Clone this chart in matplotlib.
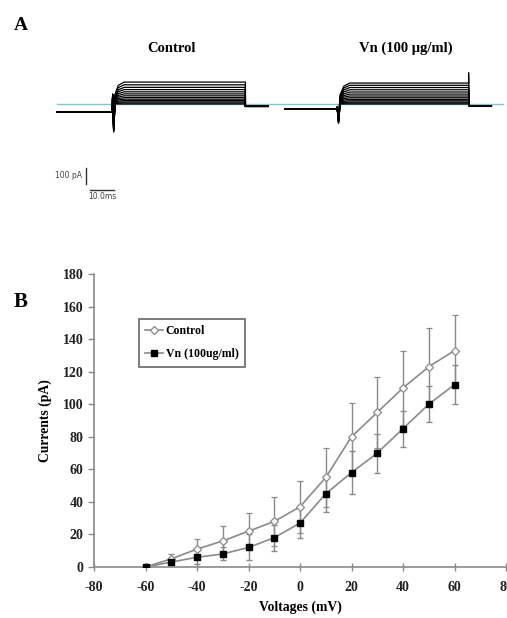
import matplotlib
matplotlib.use('Agg')
import matplotlib.pyplot as plt
from matplotlib.lines import Line2D

# ---- panel B data (I-V curve) ----
voltages = [-60, -50, -40, -30, -20, -10, 0, 10, 20, 30, 40, 50, 60]
control_mean = [0, 5, 11, 16, 22, 28, 37, 55, 80, 95, 110, 123, 133]
control_err = [0, 3, 6, 9, 11, 15, 16, 18, 21, 22, 23, 24, 22]
vn_mean = [0, 3, 6, 8, 12, 18, 27, 45, 58, 70, 85, 100, 112]
vn_err = [0, 1, 4, 4, 8, 8, 9, 11, 13, 12, 11, 11, 12]

# ---- panel A data (current traces, pA vs ms) ----
# steady-state level of each sweep
control_levels = [0, 6, 13, 21, 30, 40, 51, 63, 76, 90, 104, 120, 137]
vn_levels = [0, 6, 12, 20, 29, 39, 50, 62, 75, 89, 103, 117, 131]
# knots of one sweep (ms, relative to trace start)
control_t = [0, 23, 23.2, 23.6, 24.2, 25.5, 28, 78.5, 78.5, 78.8, 88]
vn_t = [0, 21.5, 21.7, 22.3, 23.0, 24.5, 27, 76.5, 76.5, 76.8, 86]
control_hold = -50      # pre-pulse holding current
control_tail = -15      # post-pulse
control_spike = [60, -175]  # onset up-spike, onset dip
control_end_spike = -15
vn_hold = -31
vn_tail = -12
vn_spike = [-20, -120]
vn_end_spike = 195
control_start = 23.75   # ms, trace offset on the page
vn_start = 118.75

plt.rcParams['axes.unicode_minus'] = False

W, H = 507, 618
fig = plt.figure(figsize=(W / 100, H / 100), dpi=100)
serif = ['Liberation Serif', 'DejaVu Serif']

# ---------------- panel A ----------------
px_ms = 2.4      # pixels per ms
px_pa = 1 / 6.25  # pixels per pA
axA = fig.add_axes([0, 1 - 210 / H, 1, 150 / H])
axA.set_xlim(0, W / px_ms)
axA.set_ylim(-(210 - 104) / px_pa, (104 - 60) / px_pa)
axA.axis('off')

axA.axhline(0, xmin=57 / W, xmax=503 / W, color='#7cc6cc', lw=1.0, zorder=1)


def sweep(t, start, hold, spikes, lvl, tail, end_spike):
    tt = [start + v for v in t]
    yy = [hold, hold, spikes[0], spikes[1] + 0.3 * lvl, 0.45 * lvl,
          0.85 * lvl, lvl, lvl, end_spike, tail, tail]
    return tt, yy


for lvl in control_levels:
    tt, yy = sweep(control_t, control_start, control_hold, control_spike,
                   lvl, control_tail, control_end_spike)
    axA.plot(tt, yy, color='black', lw=0.9, zorder=2)
for lvl in vn_levels:
    end = vn_end_spike if lvl == vn_levels[-1] else lvl
    tt, yy = sweep(vn_t, vn_start, vn_hold, vn_spike, lvl, vn_tail, end)
    axA.plot(tt, yy, color='black', lw=0.9, zorder=2)

# scale bars
axA.plot([86 / px_ms] * 2, [-400, -500], color='#333333', lw=1.0)
axA.plot([90 / px_ms, 90 / px_ms + 10], [-537.5, -537.5], color='#333333', lw=1.0)
axA.text(82 / px_ms, -450, '100 pA', ha='right', va='center', fontsize=5.5,
         color='#444444', family='DejaVu Sans')
axA.text(102 / px_ms, -580, '10.0ms', ha='center', va='center', fontsize=5.5,
         color='#444444', family='DejaVu Sans')

fig.text(14 / W, 1 - 25 / H, 'A', fontsize=14, fontweight='bold', family=serif,
         va='center')
fig.text(171 / W, 1 - 48 / H, 'Control', fontsize=10.5, fontweight='bold',
         family=serif, ha='center', va='center')
fig.text(406 / W, 1 - 48 / H, 'Vn (100 \u03bcg/ml)', fontsize=10.5,
         fontweight='bold', family=serif, ha='center', va='center')

# ---------------- panel B ----------------
axB = fig.add_axes([94 / W, 1 - 567 / H, 412 / W, 293 / H])
gray = '#8a8a8a'
axB.errorbar(voltages, control_mean, yerr=control_err, color=gray, lw=1.2,
             marker='D', ms=4.5, mfc='white', mec=gray, mew=0.9,
             ecolor=gray, elinewidth=1.0, capsize=2.5, capthick=1.0, zorder=3)
axB.errorbar(voltages, vn_mean, yerr=vn_err, color=gray, lw=1.2,
             marker='s', ms=4.5, mfc='black', mec='black',
             ecolor=gray, elinewidth=1.0, capsize=2.5, capthick=1.0, zorder=3)

axB.set_xlim(-80, 80)
axB.set_ylim(0, 180)
axB.set_xticks(range(-80, 81, 20))
axB.set_yticks(range(0, 181, 20))
for s in ['top', 'right']:
    axB.spines[s].set_visible(False)
for s in ['left', 'bottom']:
    axB.spines[s].set_color(gray)
    axB.spines[s].set_linewidth(1.2)
axB.tick_params(axis='both', colors=gray, labelcolor='#222222', width=1.0,
                length=4, labelsize=10)
axB.tick_params(axis='x', direction='inout', length=6, pad=7)
for lab in axB.get_xticklabels() + axB.get_yticklabels():
    lab.set_family(serif)
    lab.set_fontweight('bold')

axB.set_xlabel('Voltages (mV)', fontsize=9.8, fontweight='bold', family=serif,
               labelpad=5)
axB.set_ylabel('Currents (pA)', fontsize=9.8, fontweight='bold', family=serif,
               labelpad=8)

handles = [Line2D([], [], color=gray, lw=1.2, marker='D', ms=4, mfc='white',
                  mec=gray, mew=0.9),
           Line2D([], [], color=gray, lw=1.2, marker='s', ms=4, mfc='black',
                  mec='black')]
leg = axB.legend(handles, ['Control', 'Vn (100ug/ml)'], loc='upper left',
                 bbox_to_anchor=(45 / 412, 1 - (319 - 274) / 293),
                 prop={'family': serif, 'weight': 'bold', 'size': 8.5},
                 handlelength=1.5, handletextpad=0.2, borderpad=0.55,
                 borderaxespad=0, labelspacing=0.9, fancybox=False,
                 framealpha=1)
leg.get_frame().set_edgecolor('#666666')
leg.get_frame().set_linewidth(1.2)

fig.text(14 / W, 1 - 302 / H, 'B', fontsize=15, fontweight='bold', family=serif,
         va='center')

fig.savefig('out.png', dpi=100, facecolor='white')
